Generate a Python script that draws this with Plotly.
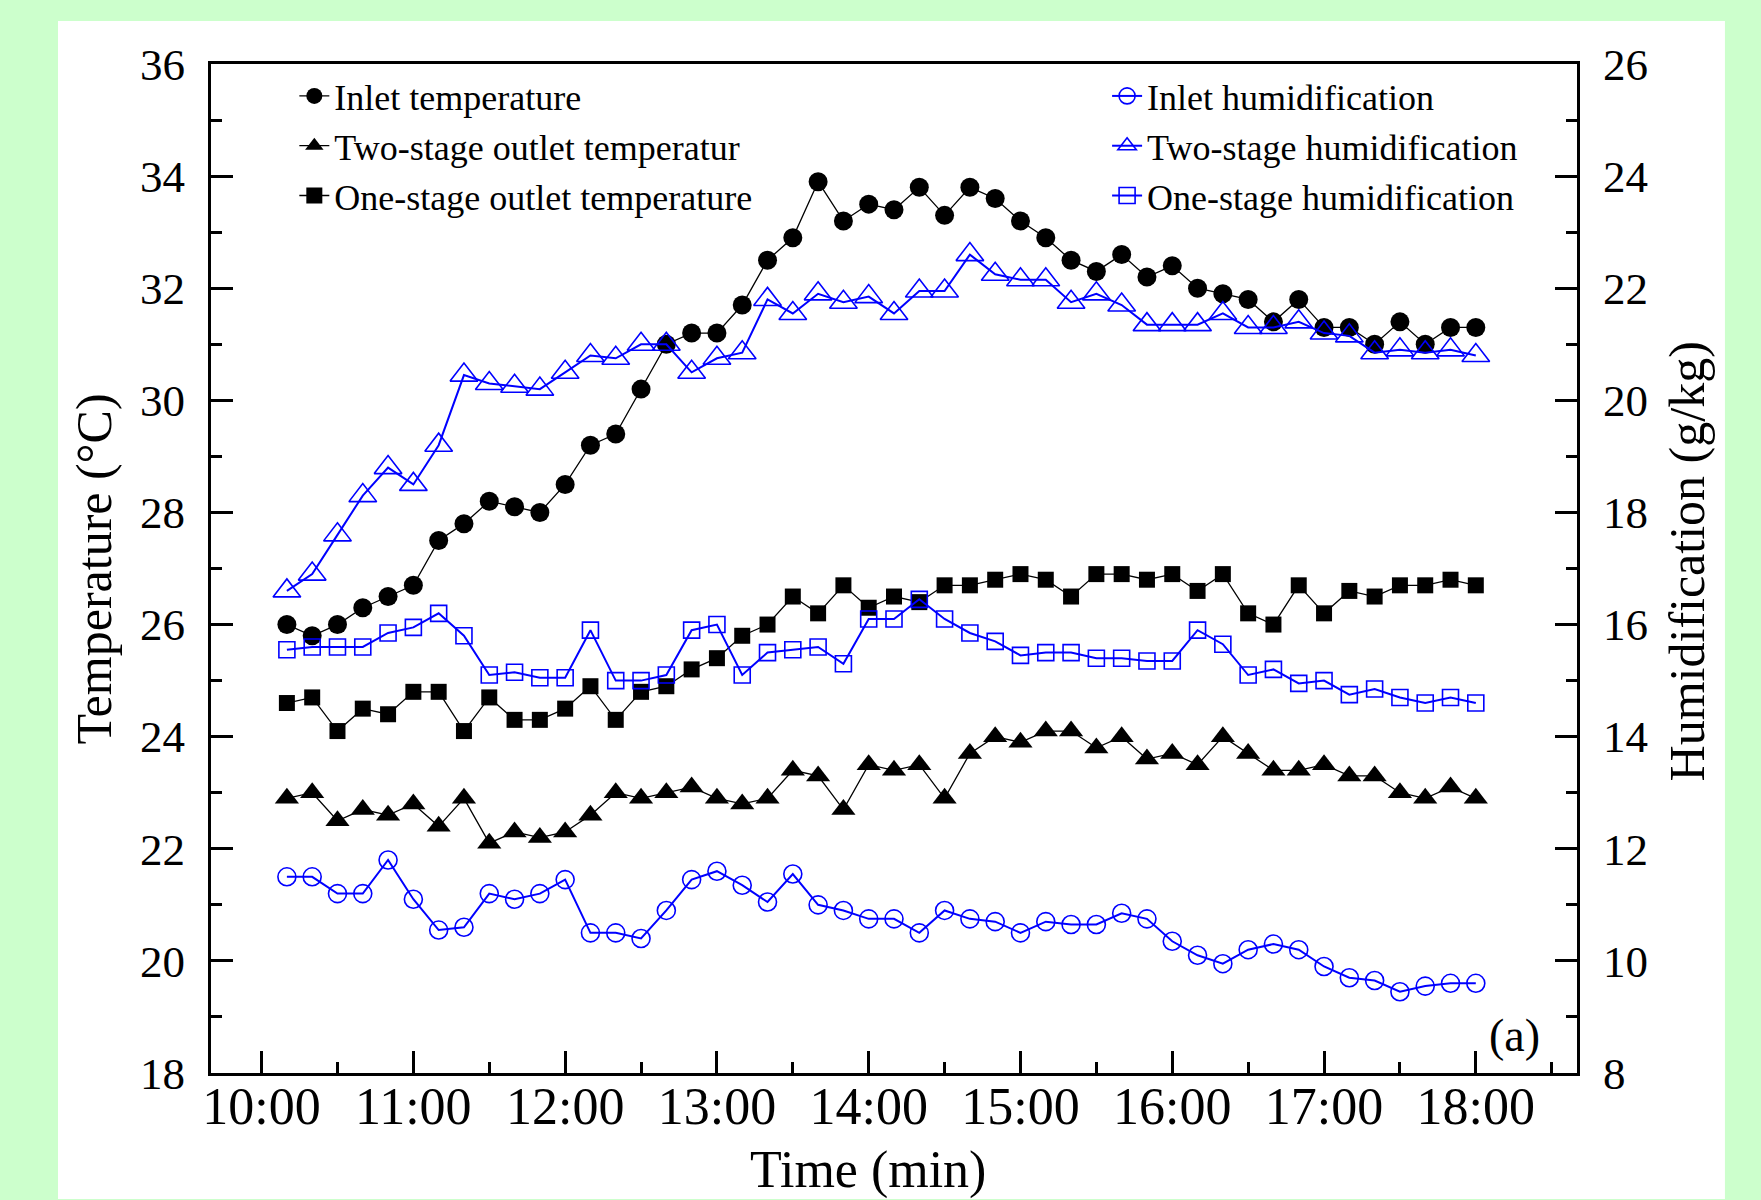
import plotly.graph_objects as go

# ---------------- data ----------------
times = ["10:10", "10:20", "10:30", "10:40", "10:50", "11:00",
         "11:10", "11:20", "11:30", "11:40", "11:50", "12:00",
         "12:10", "12:20", "12:30", "12:40", "12:50", "13:00",
         "13:10", "13:20", "13:30", "13:40", "13:50", "14:00",
         "14:10", "14:20", "14:30", "14:40", "14:50", "15:00",
         "15:10", "15:20", "15:30", "15:40", "15:50", "16:00",
         "16:10", "16:20", "16:30", "16:40", "16:50", "17:00",
         "17:10", "17:20", "17:30", "17:40", "17:50", "18:00"]

hour_labels = ["10:00", "11:00", "12:00", "13:00", "14:00",
               "15:00", "16:00", "17:00", "18:00"]

inlet_temp = [26.0, 25.8, 26.0, 26.3, 26.5, 26.7, 27.5, 27.8, 28.2, 28.1, 28.0, 28.5,
              29.2, 29.4, 30.2, 31.0, 31.2, 31.2, 31.7, 32.5, 32.9, 33.9, 33.2, 33.5,
              33.4, 33.8, 33.3, 33.8, 33.6, 33.2, 32.9, 32.5, 32.3, 32.6, 32.2, 32.4,
              32.0, 31.9, 31.8, 31.4, 31.8, 31.3, 31.3, 31.0, 31.4, 31.0, 31.3, 31.3]

two_stage_out = [22.9, 23.0, 22.5, 22.7, 22.6, 22.8, 22.4, 22.9, 22.1, 22.3, 22.2, 22.3,
                 22.6, 23.0, 22.9, 23.0, 23.1, 22.9, 22.8, 22.9, 23.4, 23.3, 22.7, 23.5,
                 23.4, 23.5, 22.9, 23.7, 24.0, 23.9, 24.1, 24.1, 23.8, 24.0, 23.6, 23.7,
                 23.5, 24.0, 23.7, 23.4, 23.4, 23.5, 23.3, 23.3, 23.0, 22.9, 23.1, 22.9]

one_stage_out = [24.6, 24.7, 24.1, 24.5, 24.4, 24.8, 24.8, 24.1, 24.7, 24.3, 24.3, 24.5,
                 24.9, 24.3, 24.8, 24.9, 25.2, 25.4, 25.8, 26.0, 26.5, 26.2, 26.7, 26.3,
                 26.5, 26.4, 26.7, 26.7, 26.8, 26.9, 26.8, 26.5, 26.9, 26.9, 26.8, 26.9,
                 26.6, 26.9, 26.2, 26.0, 26.7, 26.2, 26.6, 26.5, 26.7, 26.7, 26.8, 26.7]

inlet_hum = [11.5, 11.5, 11.2, 11.2, 11.8, 11.1, 10.55, 10.6, 11.2, 11.1, 11.2, 11.45,
             10.5, 10.5, 10.4, 10.9, 11.45, 11.6, 11.35, 11.05, 11.55, 11.0, 10.9, 10.75,
             10.75, 10.5, 10.9, 10.75, 10.7, 10.5, 10.7, 10.65, 10.65, 10.85, 10.75, 10.35,
             10.1, 9.95, 10.2, 10.3, 10.2, 9.9, 9.7, 9.65, 9.45, 9.55, 9.6, 9.6]

two_stage_hum = [16.6, 16.9, 17.6, 18.3, 18.8, 18.5, 19.2, 20.45, 20.3, 20.25, 20.2, 20.5,
                 20.8, 20.75, 21.0, 21.0, 20.5, 20.75, 20.85, 21.8, 21.55, 21.9, 21.75, 21.85,
                 21.55, 21.95, 21.95, 22.6, 22.25, 22.15, 22.15, 21.75, 21.9, 21.7, 21.35, 21.35,
                 21.35, 21.55, 21.3, 21.3, 21.4, 21.2, 21.15, 20.85, 20.9, 20.85, 20.9, 20.8]

one_stage_hum = [15.55, 15.6, 15.6, 15.6, 15.85, 15.95, 16.2, 15.8, 15.1, 15.15, 15.05, 15.05,
                 15.9, 15.0, 15.0, 15.1, 15.9, 16.0, 15.1, 15.5, 15.55, 15.6, 15.3, 16.1,
                 16.1, 16.45, 16.1, 15.85, 15.7, 15.45, 15.5, 15.5, 15.4, 15.4, 15.35, 15.35,
                 15.9, 15.65, 15.1, 15.2, 14.95, 15.0, 14.75, 14.85, 14.7, 14.6, 14.7, 14.6]

# ---------------- figure ----------------
DAY = "2000-01-01 "
x = [DAY + t for t in times]
SERIF = "Liberation Serif, Times New Roman, serif"
BLUE = "#0000ff"

fig = go.Figure()

black_specs = [
    ("Inlet temperature", inlet_temp, "circle", 19),
    ("Two-stage outlet temperatur", two_stage_out, "triangle-up", 21),
    ("One-stage outlet temperature", one_stage_out, "square", 16),
]
for name, vals, sym, size in black_specs:
    fig.add_trace(go.Scatter(
        x=x, y=vals, name=name, mode="lines+markers", yaxis="y", legend="legend",
        line=dict(color="black", width=1.3),
        marker=dict(symbol=sym, size=size, color="black", line=dict(width=0)),
    ))

blue_specs = [
    ("Inlet humidification", inlet_hum, "circle-open", 18),
    ("Two-stage humidification", two_stage_hum, "triangle-up-open", 24),
    ("One-stage humidification", one_stage_hum, "square-open", 16),
]
for name, vals, sym, size in blue_specs:
    fig.add_trace(go.Scatter(
        x=x, y=vals, name=name, mode="lines+markers", yaxis="y2", legend="legend2",
        line=dict(color=BLUE, width=2),
        marker=dict(symbol=sym, size=size, color=BLUE, line=dict(width=1.6, color=BLUE)),
    ))

axis_common = dict(
    showline=True, linewidth=3, linecolor="black",
    ticks="inside", ticklen=22, tickwidth=3, tickcolor="black",
    showgrid=False, zeroline=False,
)

fig.update_layout(
    width=1761, height=1200, autosize=False,
    margin=dict(l=211, r=184, t=64, b=127),
    paper_bgcolor="#ccffcc",
    plot_bgcolor="white",
    font=dict(family=SERIF, color="black"),
    showlegend=True,
    xaxis=dict(
        type="date",
        range=[DAY + "09:40", DAY + "18:40"],
        tickmode="array",
        tickvals=[DAY + h for h in hour_labels],
        ticktext=hour_labels,
        tickfont=dict(family=SERIF, size=52, color="black"),
        ticklabelstandoff=-14,
        mirror=True,
        minor=dict(tick0=DAY + "10:00", dtick=1800000, ticks="inside", ticklen=11,
                   tickwidth=3, tickcolor="black", showgrid=False),
        **axis_common,
    ),
    yaxis=dict(
        range=[18, 36], dtick=2, tick0=18,
        tickfont=dict(family=SERIF, size=45, color="black"),
        ticklabelstandoff=14,
        minor=dict(dtick=1, ticks="inside", ticklen=11, tickwidth=3,
                   tickcolor="black", showgrid=False),
        **axis_common,
    ),
    yaxis2=dict(
        range=[8, 26], dtick=2, tick0=8,
        overlaying="y", side="right",
        tickfont=dict(family=SERIF, size=45, color="black"),
        ticklabelstandoff=14,
        minor=dict(dtick=1, ticks="inside", ticklen=11, tickwidth=3,
                   tickcolor="black", showgrid=False),
        **axis_common,
    ),
    legend=dict(
        x=0.061, y=0.998, xanchor="left", yanchor="top",
        bgcolor="rgba(0,0,0,0)", borderwidth=0,
        font=dict(family=SERIF, size=36, color="black"),
    ),
    legend2=dict(
        x=0.656, y=0.998, xanchor="left", yanchor="top",
        bgcolor="rgba(0,0,0,0)", borderwidth=0,
        font=dict(family=SERIF, size=36, color="black"),
    ),
    shapes=[dict(
        type="rect", xref="paper", yref="paper",
        x0=-0.112, x1=1.1083, y0=-0.1249, y1=1.0426,
        fillcolor="white", line=dict(width=0), layer="below",
    )],
    annotations=[
        dict(text="Temperature (°C)", xref="paper", yref="paper",
             x=-0.0857, y=0.5, xanchor="center", yanchor="middle",
             textangle=-90, showarrow=False,
             font=dict(family=SERIF, size=50, color="black")),
        dict(text="Humidification (g/kg)", xref="paper", yref="paper",
             x=1.0805, y=0.507, xanchor="center", yanchor="middle",
             textangle=-90, showarrow=False,
             font=dict(family=SERIF, size=50, color="black")),
        dict(text="Time (min)", xref="paper", yref="paper",
             x=0.481, y=-0.0961, xanchor="center", yanchor="middle",
             showarrow=False,
             font=dict(family=SERIF, size=52, color="black")),
        dict(text="(a)", xref="paper", yref="paper",
             x=0.9539, y=0.0372, xanchor="center", yanchor="middle",
             showarrow=False,
             font=dict(family=SERIF, size=46, color="black")),
    ],
)

fig.write_html("out.html")
